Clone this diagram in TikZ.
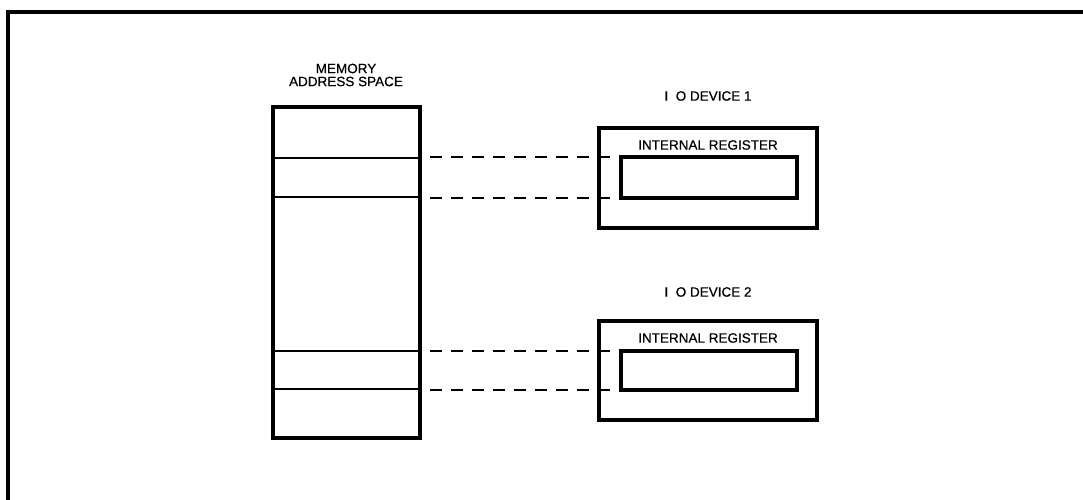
\documentclass[tikz,border=0pt]{standalone}
\usepackage{fontspec}
\setmainfont{Liberation Sans}[FakeBold=0.8,AutoFakeBold=0.8]
\newfontfamily\lblfont{Liberation Sans}[FakeBold=0.6]
\begin{document}
\begin{tikzpicture}[x=1pt,y=-1pt,
  thick box/.style={draw,line width=3.2pt,inner sep=0pt,outer sep=0pt,anchor=north west},
  lbl/.style={font=\fontsize{13.5}{15}\selectfont\lblfont\addfontfeatures{FakeBold=0.6},inner sep=0pt,align=center},
  divider/.style={line width=2pt},
  dashline/.style={line width=2pt,dash pattern=on 12pt off 9pt},
  frame/.style={line width=3.4pt}]
\useasboundingbox (0,0) rectangle (1083,500);
% outer frame (top and left sides)
\coordinate (ftr) at (1083,12);
\coordinate (ftl) at (8,12);
\coordinate (fbl) at (8,500);
\draw[frame] (ftr) -- (ftl) -- (fbl);
% memory
\node[thick box,minimum width=147pt,minimum height=331pt] (mem) at (273,107) {};
\node[lbl] (memlbl) at (346,75) {MEMORY\\[-2pt]ADDRESS SPACE};
\coordinate (m1l) at (273,158); \coordinate (m1r) at (420,158);
\coordinate (m2l) at (273,197); \coordinate (m2r) at (420,197);
\coordinate (m3l) at (273,351); \coordinate (m3r) at (420,351);
\coordinate (m4l) at (273,389); \coordinate (m4r) at (420,389);
\draw[divider] (m1l) -- (m1r);
\draw[divider] (m2l) -- (m2r);
\draw[divider] (m3l) -- (m3r);
\draw[divider] (m4l) -- (m4r);
% device 1
\node[lbl] (dev1lbl) at (708,96) {I\ \ O DEVICE 1};
\node[thick box,minimum width=218pt,minimum height=100pt] (dev1) at (599,128) {};
\node[lbl] (ir1) at (708,145) {INTERNAL REGISTER};
\node[thick box,minimum width=176pt,minimum height=41pt] (reg1) at (621,157) {};
% device 2
\node[lbl] (dev2lbl) at (708,292) {I\ \ O DEVICE 2};
\node[thick box,minimum width=218pt,minimum height=99pt] (dev2) at (599,321) {};
\node[lbl] (ir2) at (708,338) {INTERNAL REGISTER};
\node[thick box,minimum width=176pt,minimum height=39pt] (reg2) at (621,351) {};
% dashed connectors
\coordinate (c1) at (430,157);
\coordinate (c2) at (430,198);
\coordinate (c3) at (430,351);
\coordinate (c4) at (430,390);
\draw[dashline] (c1) -- (reg1.north west);
\draw[dashline] (c2) -- (reg1.south west);
\draw[dashline] (c3) -- (reg2.north west);
\draw[dashline] (c4) -- (reg2.south west);
\end{tikzpicture}
\end{document}
